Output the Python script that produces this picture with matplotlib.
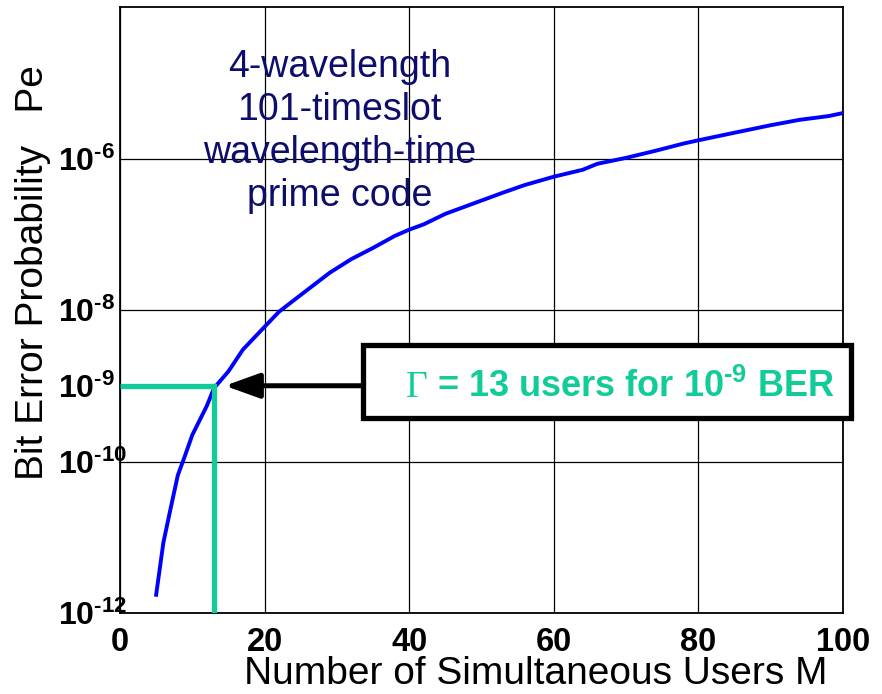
import matplotlib
matplotlib.use("Agg")
import matplotlib.pyplot as plt
from matplotlib.patches import Rectangle
from matplotlib.offsetbox import TextArea, HPacker, AnnotationBbox

plt.rcParams['font.family'] = ['Liberation Sans', 'DejaVu Sans']
plt.rcParams['mathtext.fontset'] = 'custom'
plt.rcParams['mathtext.rm'] = 'Liberation Sans'
plt.rcParams['mathtext.bf'] = 'Liberation Sans:bold'
plt.rcParams['mathtext.it'] = 'Liberation Sans:italic'

HY = '\u2010'  # short hyphen used in the exponents

# ---- data ----
users = [5, 6, 7, 8, 9, 10, 12, 13, 15, 17, 20, 22, 25, 29, 32, 35, 38, 40, 42,
         45, 49, 53, 56, 60, 64, 66, 70, 74, 78, 80, 85, 90, 94, 98, 100]
pe = [1.74e-12, 8.5e-12, 2.4e-11, 6.6e-11, 1.2e-10, 2.24e-10, 5.4e-10, 9.3e-10,
      1.55e-9, 3.0e-9, 6.0e-9, 9.5e-9, 1.58e-8, 3.1e-8, 4.7e-8, 6.6e-8, 9.5e-8,
      1.15e-7, 1.35e-7, 1.86e-7, 2.57e-7, 3.55e-7, 4.47e-7, 5.75e-7, 7.1e-7,
      8.5e-7, 1.02e-6, 1.26e-6, 1.58e-6, 1.74e-6, 2.19e-6, 2.75e-6, 3.24e-6,
      3.63e-6, 3.98e-6]
x_ticks = [0, 20, 40, 60, 80, 100]
x_tick_labels = ['0', '20', '40', '60', '80', '100']
y_ticks = [1e-12, 1e-10, 1e-9, 1e-8, 1e-6]
y_exponents = ['12', '10', '9', '8', '6']
y_tick_labels = [r'$\mathbf{10^{' + HY + e + r'}}$' for e in y_exponents]
threshold_users = 13
threshold_ber = 1e-9
code_text = "4-wavelength\n101-timeslot\nwavelength-time\nprime code"
xlabel = "Number of Simultaneous Users M"
ylabel = "Bit Error Probability   Pe"

teal = '#11cc99'
navy = '#0d0d6b'

fig = plt.figure(figsize=(8.82, 6.94), dpi=100)
ax = fig.add_axes([120/882, 1 - 613/694, 723/882, 606/694])

ax.set_yscale('log')
ax.set_xlim(0, 100)
ax.set_ylim(1e-12, 1e-4)

ax.plot(users, pe, color='#0000ff', lw=2.8, zorder=3)

# threshold lines
ax.plot([0, threshold_users], [threshold_ber, threshold_ber], color=teal, lw=3.8,
        zorder=4, solid_capstyle='butt')
ax.plot([threshold_users, threshold_users], [1e-12, threshold_ber], color=teal, lw=3.8,
        zorder=4, solid_capstyle='projecting')

# ticks / grid
ax.set_xticks(x_ticks)
ax.set_xticklabels(x_tick_labels, fontsize=23.5, fontweight='bold')
ax.set_yticks(y_ticks)
ax.set_yticklabels(y_tick_labels, fontsize=23)
ax.yaxis.set_minor_locator(matplotlib.ticker.NullLocator())
ax.tick_params(axis='x', length=0, pad=10)
ax.tick_params(axis='y', length=0, pad=44.5)
for lab in ax.get_yticklabels():
    lab.set_horizontalalignment('left')
ax.grid(True, color='black', lw=0.9)
ax.get_ygridlines()[2].set_visible(False)
for s in ax.spines.values():
    s.set_linewidth(1.3)
    s.set_color('black')

ax.set_xlabel(xlabel, fontsize=28)
ax.xaxis.set_label_coords(0.575, -0.1)
ax.xaxis.label.set_va('center')
ax.set_ylabel(ylabel, fontsize=28)
ax.yaxis.label.set_va('center')
ax.yaxis.set_label_coords(-0.121, 0.562)

# code description text
ax.text(30.4, 10**-5.64, code_text, color=navy, fontsize=27, ha='center', va='center',
        linespacing=1.25, zorder=5)

# annotation box
box_lo, box_hi = 10**-9.42, 10**-8.46
ax.add_patch(Rectangle((33.6, box_lo), 101.1 - 33.6, box_hi - box_lo, fill=True,
                       facecolor='white', edgecolor='black', lw=3.8, clip_on=False, zorder=6))
ta1 = TextArea('\u0393', textprops=dict(family='Liberation Serif', size=27, color=teal))
ta2 = TextArea(r' = 13 users for $\mathbf{10^{' + HY + r'9}}$ BER',
               textprops=dict(family='Liberation Sans', weight='bold', size=26, color=teal))
pack = HPacker(children=[ta1, ta2], align='baseline', pad=0, sep=0)
ab = AnnotationBbox(pack, xy=(69.2, 10**-9.02), xycoords='data', frameon=False,
                    box_alignment=(0.5, 0.5), annotation_clip=False, zorder=7)
ax.add_artist(ab)

ax.annotate('', xy=(14.5, threshold_ber), xytext=(33.6, threshold_ber),
            arrowprops=dict(arrowstyle='-|>,head_length=1.0,head_width=0.36',
                            mutation_scale=21, lw=3.6, color='black',
                            shrinkA=0, shrinkB=0),
            zorder=6, annotation_clip=False)

fig.savefig('out.png', dpi=100)
